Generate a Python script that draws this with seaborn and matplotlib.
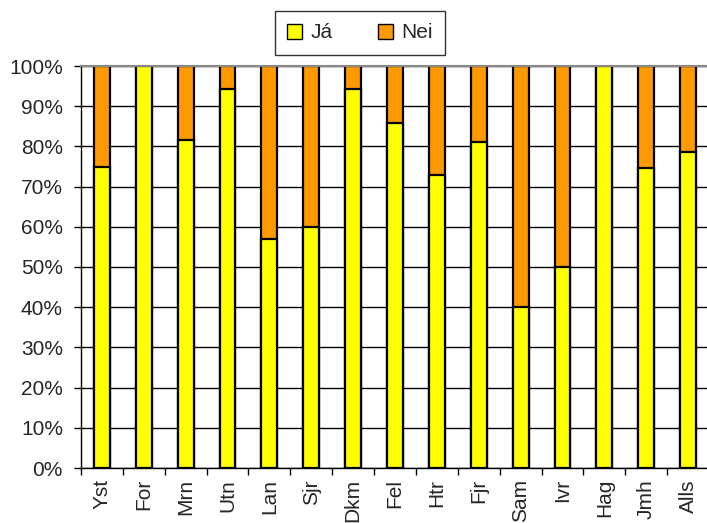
import numpy as np
import matplotlib as mpl
from matplotlib import pyplot as plt
from matplotlib.patches import Patch
import seaborn as sns
import pandas as pd

sns.set_style('white')
plt.rcParams['font.family'] = ['Liberation Sans', 'DejaVu Sans']

cats = ['Yst', 'For', 'Mrn', 'Utn', 'Lan', 'Sjr', 'Dkm', 'Fel', 'Htr', 'Fjr',
        'Sam', 'Ivr', 'Hag', 'Jmh', 'Alls']
ja = [75, 100, 81.5, 94.4, 57, 60, 94.4, 85.7, 73, 81, 40, 50, 100, 74.6, 78.5]
nei = [25, 0, 18.5, 5.6, 43, 40, 5.6, 14.3, 27, 19, 60, 50, 0, 25.4, 21.5]

df = pd.DataFrame({'cat': cats, 'ja': ja, 'nei': nei})
df['total'] = df['ja'] + df['nei']

yellow = '#FFFF00'
orange = '#FF9900'

fig = plt.figure(figsize=(7.07, 5.23), dpi=100)
ax = fig.add_axes([81 / 707, 55 / 523, 628 / 707, 402 / 523])

sns.barplot(data=df, x='cat', y='total', color=orange, width=0.38,
            edgecolor='black', linewidth=1.6, saturation=1, ax=ax)
sns.barplot(data=df, x='cat', y='ja', color=yellow, width=0.38,
            edgecolor='black', linewidth=1.6, saturation=1, ax=ax)

ax.set_xlim(-0.5, len(cats) - 0.5)
ax.set_ylim(0, 100)
ax.set_xlabel('')
ax.set_ylabel('')

ax.yaxis.set_major_locator(mpl.ticker.MultipleLocator(10))
ax.yaxis.set_major_formatter(mpl.ticker.FuncFormatter(lambda v, p: f"{int(v)}%"))
ax.tick_params(axis='y', labelsize=15, length=5, width=1, color='black',
               direction='out', left=True, pad=8)

ax.set_xticks(range(len(cats)))
ax.set_xticklabels(cats, rotation=90)
ax.set_xticks(np.arange(-0.5, len(cats)), minor=True)
ax.tick_params(axis='x', which='major', length=0, labelsize=15, pad=8)
ax.tick_params(axis='x', which='minor', length=5, width=1, color='black',
               direction='out', bottom=True)

ax.set_axisbelow(True)
ax.yaxis.grid(True, color='black', linewidth=1)
ax.xaxis.grid(False)
fig.canvas.draw()
ax.yaxis.get_gridlines()[-1].set_color('#888888')

for s in ['left', 'bottom']:
    ax.spines[s].set_color('black')
    ax.spines[s].set_linewidth(1)
ax.spines['right'].set_visible(False)
ax.spines['top'].set_color('#888888')
ax.spines['top'].set_linewidth(1.5)

handles = [Patch(facecolor=yellow, edgecolor='black', label='Já'),
           Patch(facecolor=orange, edgecolor='black', label='Nei')]
leg = fig.legend(handles=handles, loc='center', bbox_to_anchor=(360 / 707, 1 - 33 / 523),
                 ncol=2, frameon=True, fancybox=False, fontsize=15,
                 handlelength=0.7, handleheight=0.7, handletextpad=0.4,
                 columnspacing=2.2, borderpad=0.6, borderaxespad=0)
leg.get_frame().set_edgecolor('black')
leg.get_frame().set_linewidth(1)

fig.savefig('out.png', dpi=100)
